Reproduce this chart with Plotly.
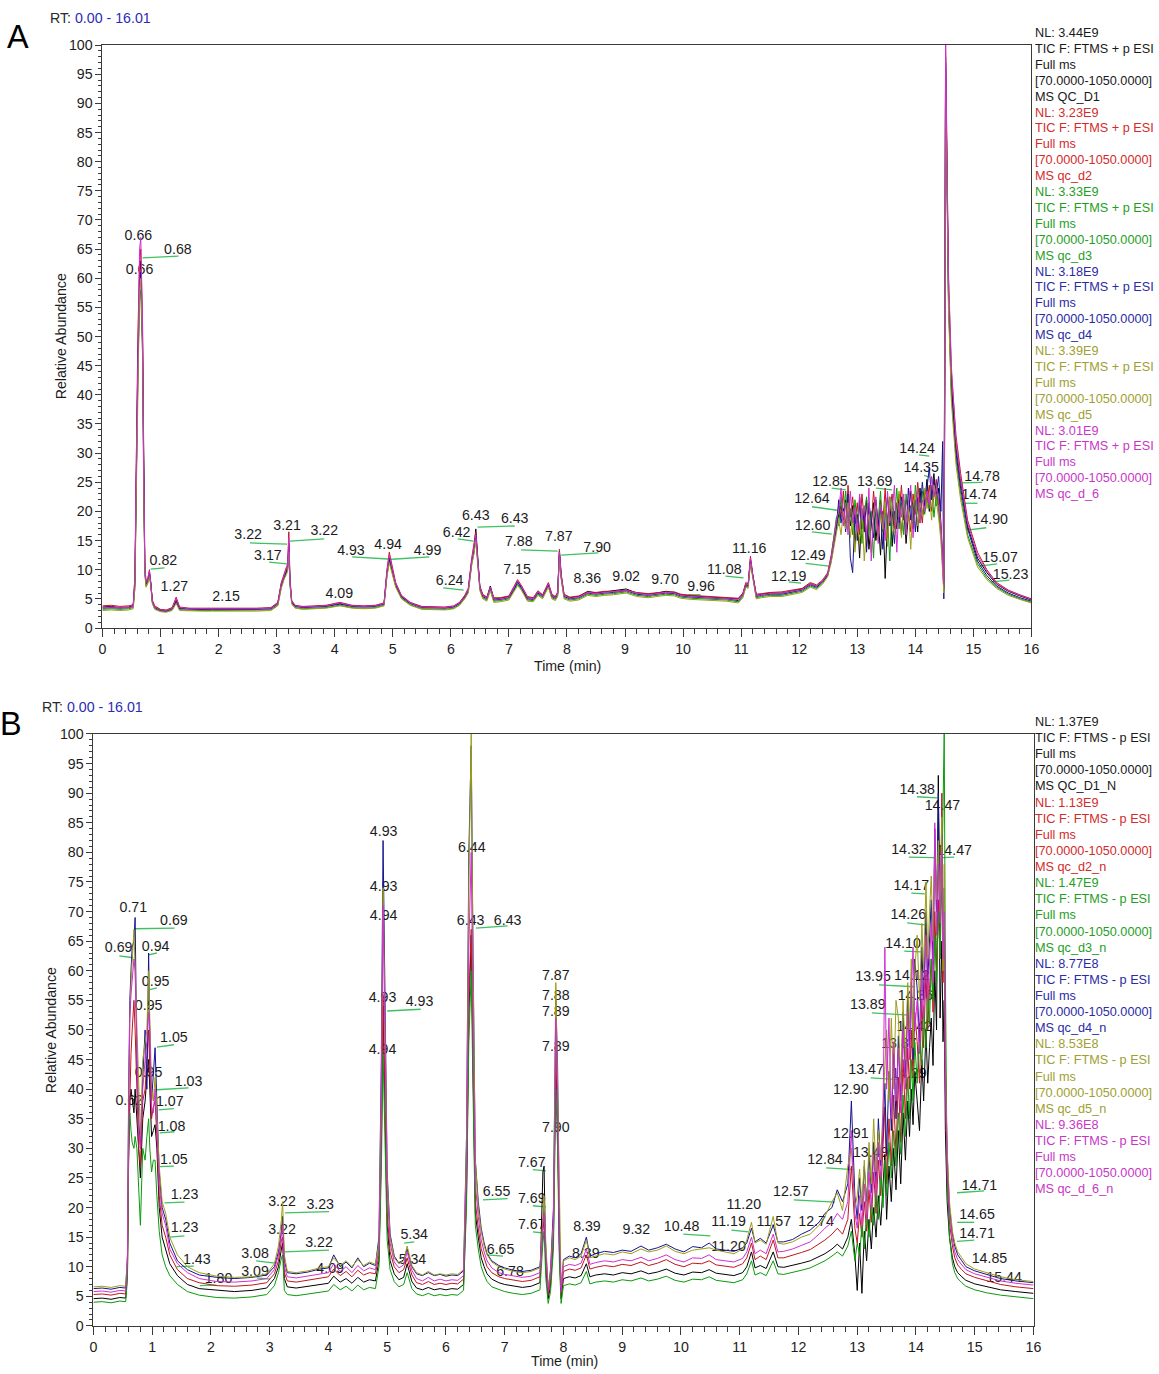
import plotly.graph_objects as go

# ---------------- Panel A : TIC, FTMS + p ESI (positive mode) ----------------
time_a = [
    0.0, 0.15, 0.3, 0.45, 0.53, 0.56, 0.58, 0.61, 0.64, 0.66,
    0.69, 0.71, 0.73, 0.75, 0.78, 0.81, 0.83, 0.86, 0.9, 1.0,
    1.1, 1.2, 1.27, 1.33, 1.5, 1.7, 1.9, 2.15, 2.4, 2.65,
    2.9, 3.02, 3.08, 3.13, 3.17, 3.19, 3.21, 3.23, 3.26, 3.32,
    3.45, 3.65, 3.85, 4.09, 4.3, 4.5, 4.7, 4.85, 4.9, 4.94,
    4.99, 5.05, 5.15, 5.3, 5.5, 5.7, 5.9, 6.05, 6.15, 6.24,
    6.3, 6.36, 6.4, 6.43, 6.46, 6.5, 6.55, 6.62, 6.68, 6.74,
    6.85, 7.0, 7.08, 7.15, 7.22, 7.32, 7.42, 7.5, 7.58, 7.68,
    7.74, 7.8, 7.84, 7.87, 7.9, 7.95, 8.05, 8.2, 8.36, 8.5,
    8.65, 8.8, 9.02, 9.2, 9.4, 9.55, 9.7, 9.85, 9.96, 10.15,
    10.35, 10.55, 10.75, 10.95, 11.03, 11.08, 11.12, 11.16, 11.2, 11.26,
    11.35, 11.5, 11.7, 11.9, 12.05, 12.19, 12.3, 12.4, 12.49, 12.55,
    12.6, 12.64, 12.68, 12.72, 12.76, 12.8, 12.84, 12.88, 12.92, 12.96,
    13.0, 13.04, 13.08, 13.12, 13.16, 13.2, 13.24, 13.28, 13.32, 13.36,
    13.4, 13.44, 13.48, 13.52, 13.56, 13.6, 13.64, 13.68, 13.72, 13.76,
    13.8, 13.84, 13.88, 13.92, 13.96, 14.0, 14.04, 14.08, 14.12, 14.16,
    14.2, 14.24, 14.28, 14.32, 14.36, 14.4, 14.44, 14.47, 14.49, 14.51,
    14.52, 14.54, 14.57, 14.62, 14.7, 14.78, 14.9, 15.07, 15.23, 15.4,
    15.6, 15.8, 16.0,
]

a_qc_d1 = [
    3.6, 3.7, 3.5, 3.6, 3.8, 8, 24, 47, 61, 63,
    50, 26, 10, 7.5, 8.2, 9.5, 8.0, 4.6, 3.6, 3.1,
    3.0, 3.4, 4.8, 3.4, 3.3, 3.2, 3.3, 3.3, 3.2, 3.3,
    3.4, 4.2, 7.5, 9.0, 10.0, 10.5, 14.5, 8.0, 4.5, 3.8,
    3.6, 3.7, 3.8, 4.2, 3.8, 3.7, 3.8, 4.2, 9.5, 12.0,
    10.0, 7.5, 5.4, 4.3, 3.6, 3.5, 3.5, 3.7, 4.3, 5.5,
    6.5, 11.5, 13.5, 17.0, 12.5, 7.0, 5.6, 5.2, 7.2, 5.0,
    5.1, 5.4, 6.8, 8.0, 7.0, 5.2, 5.1, 6.2, 5.6, 7.6,
    5.6, 5.3, 6.0, 13.2, 9.0, 5.6, 5.2, 5.4, 6.3, 6.0,
    6.2, 6.4, 6.7, 6.0, 5.8, 6.0, 6.3, 6.1, 5.7, 5.5,
    5.4, 5.3, 5.2, 5.0, 5.8, 7.6, 7.3, 11.8, 9.0, 5.6,
    5.8, 6.0, 6.0, 6.4, 6.7, 7.6, 7.2, 8.0, 9.2, 11.8,
    15.0, 17.5, 19.5, 21.0, 18.5, 22.0, 20.0, 17.5, 21.0, 14.0,
    19.5, 12.0, 20.5, 16.5, 22.0, 13.5, 18.0, 21.5, 15.0, 19.0,
    12.5, 20.0, 8.5, 18.5, 22.5, 14.0, 20.0, 17.0, 23.0, 16.0,
    21.0, 14.5, 19.5, 23.5, 17.0, 22.0, 16.5, 24.0, 19.0, 21.5,
    25.5, 20.0, 23.5, 26.5, 21.0, 24.0, 18.0, 10.0, 8.0, 60.0,
    97.0, 82.0, 58.0, 42.0, 31.0, 25.0, 17.5, 12.0, 9.5, 7.5,
    6.3, 5.5, 4.8,
]

a_qc_d2 = [
    3.8, 3.9, 3.7, 3.8, 4.0, 9, 26, 50, 63, 65,
    52, 28, 11, 8.0, 8.5, 10.0, 8.3, 4.8, 3.8, 3.2,
    3.1, 3.5, 5.3, 3.6, 3.4, 3.4, 3.4, 3.4, 3.3, 3.4,
    3.5, 4.4, 7.8, 9.5, 10.5, 11.0, 16.5, 8.5, 4.7, 3.9,
    3.7, 3.8, 3.9, 4.4, 3.9, 3.8, 3.9, 4.3, 10.0, 13.0,
    10.5, 7.8, 5.6, 4.4, 3.7, 3.6, 3.6, 3.8, 4.4, 5.6,
    6.8, 12.0, 14.5, 16.5, 12.0, 7.2, 5.8, 5.3, 7.0, 5.2,
    5.2, 5.5, 7.0, 8.3, 7.2, 5.4, 5.2, 6.4, 5.7, 7.8,
    5.8, 5.4, 6.2, 13.5, 9.3, 5.8, 5.3, 5.5, 6.2, 6.1,
    6.3, 6.3, 6.5, 6.1, 5.9, 6.1, 6.2, 6.2, 5.8, 5.6,
    5.5, 5.3, 5.3, 5.1, 6.0, 7.8, 7.6, 12.3, 9.2, 5.8,
    5.9, 6.1, 6.2, 6.5, 6.8, 7.8, 7.4, 8.2, 9.5, 12.5,
    16.0, 18.0, 21.0, 19.0, 23.5, 17.0, 24.5, 19.0, 22.5, 18.0,
    21.5, 16.0, 23.0, 18.5, 14.0, 21.0, 17.5, 23.5, 19.0, 16.0,
    22.0, 18.0, 24.0, 15.5, 20.5, 23.0, 17.0, 21.5, 19.5, 24.5,
    18.5, 22.0, 20.0, 16.5, 23.0, 19.5, 25.0, 21.0, 18.0, 23.5,
    21.5, 24.5, 20.0, 22.5, 25.5, 21.0, 17.0, 11.0, 7.0, 55.0,
    100.0, 84.0, 60.0, 44.0, 33.0, 26.5, 18.5, 13.0, 10.0, 7.8,
    6.5, 5.7, 5.0,
]

a_qc_d3 = [
    3.2, 3.3, 3.2, 3.3, 3.5, 7, 22, 44, 56, 58,
    47, 24, 9.5, 7.2, 7.8, 9.0, 7.6, 4.3, 3.3, 2.9,
    2.8, 3.1, 4.4, 3.1, 3.0, 3.0, 3.0, 3.0, 3.0, 3.0,
    3.1, 3.9, 7.0, 8.6, 9.4, 10.0, 13.5, 7.6, 4.2, 3.5,
    3.3, 3.4, 3.5, 3.9, 3.5, 3.4, 3.5, 3.9, 9.0, 11.5,
    9.6, 7.2, 5.1, 4.0, 3.3, 3.2, 3.2, 3.4, 4.0, 5.1,
    6.2, 11.0, 13.0, 15.5, 11.5, 6.6, 5.2, 4.8, 6.6, 4.6,
    4.7, 5.0, 6.3, 7.5, 6.6, 4.8, 4.7, 5.8, 5.2, 7.2,
    5.2, 4.9, 5.6, 12.4, 8.6, 5.2, 4.8, 5.0, 5.8, 5.6,
    5.8, 5.9, 6.2, 5.6, 5.4, 5.6, 5.8, 5.7, 5.3, 5.1,
    5.0, 4.9, 4.8, 4.5, 5.4, 7.2, 7.0, 11.2, 8.5, 5.2,
    5.4, 5.6, 5.6, 6.0, 6.3, 7.2, 6.8, 7.7, 9.0, 12.0,
    15.5, 19.0, 17.5, 22.5, 19.0, 23.5, 18.0, 20.5, 16.0, 22.0,
    17.5, 21.0, 14.5, 19.5, 22.5, 16.0, 20.0, 12.0, 21.5, 18.5,
    23.5, 16.5, 21.0, 19.0, 11.5, 22.0, 18.5, 24.0, 17.0, 21.5,
    16.0, 23.0, 19.5, 21.0, 17.5, 24.5, 20.0, 18.0, 23.5, 19.5,
    22.0, 20.5, 24.5, 19.0, 23.0, 20.0, 16.0, 10.0, 6.5, 48.0,
    96.0, 80.0, 56.0, 40.0, 29.0, 23.0, 16.0, 11.0, 8.6, 7.0,
    5.8, 5.0, 4.4,
]

a_qc_d4 = [
    3.4, 3.5, 3.4, 3.5, 3.7, 8, 23, 46, 59, 61,
    49, 25, 10, 7.6, 8.0, 9.3, 7.9, 4.5, 3.5, 3.0,
    2.9, 3.3, 4.6, 3.3, 3.2, 3.2, 3.2, 3.2, 3.1, 3.2,
    3.3, 4.1, 7.3, 8.8, 9.7, 10.3, 14.0, 7.8, 4.4, 3.7,
    3.5, 3.6, 3.7, 4.1, 3.7, 3.6, 3.7, 4.1, 9.3, 11.8,
    9.8, 7.4, 5.3, 4.2, 3.5, 3.4, 3.4, 3.6, 4.2, 5.3,
    6.4, 11.2, 13.3, 16.0, 12.0, 6.8, 5.4, 5.0, 6.9, 4.8,
    4.9, 5.2, 6.5, 7.8, 6.8, 5.0, 4.9, 6.0, 5.4, 7.4,
    5.4, 5.1, 5.8, 12.8, 8.8, 5.4, 5.0, 5.2, 6.0, 5.8,
    6.0, 6.1, 6.4, 5.8, 5.6, 5.8, 6.0, 5.9, 5.5, 5.3,
    5.2, 5.1, 5.0, 4.7, 5.6, 7.4, 7.2, 11.5, 8.8, 5.4,
    5.6, 5.8, 5.8, 6.2, 6.5, 7.4, 7.0, 7.9, 9.1, 11.5,
    14.5, 17.0, 22.0, 18.0, 20.5, 16.5, 23.0, 12.0, 9.5, 19.5,
    15.0, 22.5, 17.0, 20.0, 13.0, 21.5, 18.5, 15.5, 22.0, 17.5,
    20.5, 13.5, 19.0, 22.5, 17.5, 20.0, 14.5, 21.0, 18.0, 22.5,
    19.0, 17.0, 24.0, 18.5, 21.5, 16.5, 22.5, 20.0, 25.0, 21.0,
    24.0, 27.5, 22.0, 25.5, 23.0, 26.0, 20.0, 32.0, 5.0, 45.0,
    98.0, 81.0, 57.0, 41.0, 30.0, 24.0, 17.0, 11.5, 9.0, 7.2,
    6.0, 5.2, 4.6,
]

a_qc_d5 = [
    3.0, 3.1, 3.0, 3.1, 3.3, 7, 21, 44, 58, 60,
    48, 24, 9.5, 7.0, 7.6, 8.8, 7.4, 4.2, 3.2, 2.8,
    2.7, 3.0, 4.2, 3.0, 2.9, 2.9, 2.9, 2.9, 2.8, 2.9,
    3.0, 3.8, 6.8, 8.4, 9.2, 9.8, 13.0, 7.4, 4.1, 3.4,
    3.2, 3.3, 3.4, 3.8, 3.4, 3.3, 3.4, 3.8, 8.8, 11.2,
    9.4, 7.0, 5.0, 3.9, 3.2, 3.1, 3.1, 3.3, 3.9, 5.0,
    6.0, 10.8, 12.8, 15.0, 11.2, 6.4, 5.0, 4.6, 6.4, 4.4,
    4.5, 4.8, 6.1, 7.3, 6.4, 4.6, 4.5, 5.6, 5.0, 7.0,
    5.0, 4.7, 5.4, 12.0, 8.4, 5.0, 4.6, 4.8, 5.6, 5.4,
    5.6, 5.7, 6.0, 5.4, 5.2, 5.4, 5.6, 5.5, 5.1, 4.9,
    4.8, 4.7, 4.6, 4.3, 5.2, 7.0, 6.8, 11.0, 8.3, 5.0,
    5.2, 5.4, 5.4, 5.8, 6.1, 7.0, 6.6, 7.5, 8.8, 11.2,
    14.0, 16.5, 18.5, 16.0, 20.0, 17.0, 21.5, 15.5, 19.0, 13.0,
    18.0, 14.5, 20.5, 11.5, 17.0, 19.5, 13.0, 18.5, 21.0, 15.0,
    19.5, 17.0, 21.5, 14.0, 22.5, 18.5, 16.0, 20.5, 23.5, 15.5,
    22.0, 18.0, 20.5, 13.5, 21.0, 23.0, 17.5, 21.5, 19.0, 24.0,
    20.5, 23.0, 18.5, 24.5, 21.5, 19.0, 15.0, 9.5, 6.0, 42.0,
    95.0, 79.0, 55.0, 39.0, 28.0, 22.0, 15.5, 10.5, 8.3, 6.8,
    5.6, 4.9, 4.3,
]

a_qc_d6 = [
    3.5, 3.6, 3.5, 3.5, 3.7, 9, 27, 51, 65, 67,
    53, 28, 11, 7.8, 8.3, 9.8, 8.1, 4.6, 3.6, 3.1,
    3.0, 3.4, 5.0, 3.5, 3.3, 3.3, 3.3, 3.3, 3.2, 3.3,
    3.4, 4.2, 7.6, 9.2, 10.2, 10.6, 15.5, 8.2, 4.6, 3.8,
    3.6, 3.7, 3.8, 4.3, 3.8, 3.7, 3.8, 4.2, 9.8, 12.5,
    10.2, 7.6, 5.5, 4.3, 3.6, 3.5, 3.5, 3.7, 4.3, 5.4,
    6.6, 11.6, 14.0, 16.0, 12.2, 7.0, 5.6, 5.1, 7.0, 5.0,
    5.0, 5.3, 6.8, 8.1, 7.1, 5.2, 5.0, 6.2, 5.5, 7.6,
    5.6, 5.2, 6.0, 13.0, 9.1, 5.6, 5.1, 5.3, 6.1, 5.9,
    6.1, 6.2, 6.4, 6.0, 5.7, 5.9, 6.1, 6.0, 5.6, 5.4,
    5.3, 5.2, 5.1, 4.9, 5.8, 7.6, 7.4, 12.0, 9.0, 5.6,
    5.7, 5.9, 6.0, 6.3, 6.6, 7.6, 7.2, 8.0, 9.3, 12.0,
    15.0, 18.5, 20.0, 24.0, 17.5, 21.5, 16.0, 23.5, 18.0, 20.5,
    16.5, 23.0, 18.5, 21.0, 15.5, 24.0, 11.5, 19.0, 22.5, 14.5,
    21.0, 19.0, 15.0, 23.5, 18.0, 20.0, 24.5, 13.0, 21.5, 19.0,
    23.0, 16.0, 21.5, 24.5, 15.5, 20.5, 23.5, 18.0, 22.0, 20.0,
    23.5, 21.0, 26.0, 22.5, 24.0, 22.0, 17.5, 11.5, 7.5, 62.0,
    100.0, 85.0, 61.0, 45.0, 32.0, 25.5, 18.0, 12.5, 9.8, 7.6,
    6.4, 5.6, 4.9,
]

# ---------------- Panel B : TIC, FTMS - p ESI (negative mode) ----------------
time_b = [
    0.0, 0.15, 0.3, 0.45, 0.55, 0.58, 0.6, 0.62, 0.64, 0.66,
    0.69, 0.71, 0.74, 0.77, 0.8, 0.84, 0.88, 0.91, 0.94, 0.96,
    0.99, 1.02, 1.05, 1.08, 1.12, 1.17, 1.23, 1.3, 1.43, 1.6,
    1.8, 2.1, 2.4, 2.7, 2.95, 3.08, 3.15, 3.2, 3.22, 3.25,
    3.3, 3.45, 3.65, 3.85, 4.0, 4.09, 4.2, 4.3, 4.4, 4.5,
    4.6, 4.7, 4.8, 4.86, 4.9, 4.93, 4.96, 5.0, 5.05, 5.12,
    5.2, 5.28, 5.34, 5.42, 5.5, 5.6, 5.7, 5.8, 5.9, 6.0,
    6.1, 6.2, 6.3, 6.35, 6.39, 6.43, 6.46, 6.5, 6.55, 6.6,
    6.65, 6.7, 6.78, 6.9, 7.0, 7.15, 7.3, 7.45, 7.6, 7.65,
    7.67, 7.7, 7.74, 7.78, 7.83, 7.87, 7.9, 7.93, 7.96, 8.0,
    8.1, 8.2, 8.3, 8.39, 8.45, 8.55, 8.7, 8.85, 9.0, 9.15,
    9.32, 9.45, 9.6, 9.75, 9.9, 10.05, 10.2, 10.35, 10.48, 10.6,
    10.75, 10.9, 11.05, 11.12, 11.2, 11.26, 11.35, 11.45, 11.57, 11.65,
    11.75, 11.9, 12.05, 12.2, 12.35, 12.45, 12.57, 12.66, 12.75, 12.84,
    12.9, 12.96, 13.0, 13.04, 13.08, 13.12, 13.16, 13.2, 13.24, 13.28,
    13.32, 13.36, 13.4, 13.44, 13.47, 13.5, 13.54, 13.58, 13.62, 13.66,
    13.7, 13.74, 13.78, 13.82, 13.86, 13.89, 13.92, 13.95, 13.98, 14.02,
    14.06, 14.1, 14.13, 14.17, 14.2, 14.23, 14.26, 14.29, 14.32, 14.35,
    14.38, 14.41, 14.44, 14.46, 14.48, 14.5, 14.53, 14.57, 14.62, 14.66,
    14.71, 14.78, 14.85, 15.0, 15.2, 15.44, 15.7, 16.0,
]

b_qc_d1 = [
    4.6, 4.7, 4.5, 4.8, 4.7, 9, 28, 38, 40, 38,
    36, 40, 35, 28, 25, 35, 38, 42, 45, 40,
    32, 33, 34, 30, 20, 15, 13, 10.5, 8.5, 7.0,
    6.3, 6.0, 5.8, 6.0, 6.4, 8.0, 10.0, 13.0, 14.0, 8.0,
    6.6, 6.4, 6.7, 7.0, 7.2, 8.4, 7.4, 8.0, 7.2, 8.2,
    7.4, 7.8, 7.6, 11.0, 30.0, 54.0, 36.0, 17.0, 11.0, 8.8,
    7.8, 8.2, 10.5, 7.5, 6.4, 6.1, 6.5, 6.1, 6.3, 6.1,
    6.3, 6.2, 7.0, 22.0, 52.0, 66.0, 44.0, 19.0, 15.0, 11.5,
    10.0, 8.8, 7.9, 7.3, 7.0, 6.7, 6.5, 6.7, 7.3, 26.0,
    27.0, 10.0, 4.6, 6.8, 15.0, 46.0, 34.0, 13.0, 4.6, 8.0,
    8.3, 8.1, 8.5, 10.5, 8.3, 8.6, 8.8, 8.6, 9.0, 8.8,
    9.3, 8.8, 9.1, 9.6, 8.9, 8.6, 9.1, 9.0, 9.5, 8.9,
    8.7, 8.5, 9.0, 10.0, 12.5, 9.8, 10.2, 9.7, 12.5, 10.0,
    9.9, 10.2, 10.6, 11.0, 11.8, 12.2, 13.0, 13.8, 13.0, 15.0,
    18.0, 12.0, 6.0, 14.0, 5.5, 16.0, 11.0, 18.0, 13.0, 20.0,
    15.0, 22.0, 17.0, 25.0, 29.0, 18.0, 27.0, 21.0, 30.0, 23.0,
    33.0, 24.0, 36.0, 28.0, 38.0, 32.0, 40.0, 34.0, 43.0, 38.0,
    33.0, 45.0, 38.0, 50.0, 41.0, 47.0, 52.0, 44.0, 60.0, 50.0,
    93.0, 52.0, 65.0, 48.0, 55.0, 33.0, 21.0, 15.0, 11.5, 10.0,
    9.0, 8.3, 7.7, 7.1, 6.6, 6.1, 5.8, 5.5,
]

b_qc_d2 = [
    5.3, 5.4, 5.2, 5.5, 5.4, 10, 30, 40, 46, 50,
    55, 50, 40, 30, 27, 38, 40, 45, 50, 43,
    35, 37, 38, 32, 22, 17, 15, 12, 9.5, 8.0,
    7.3, 6.8, 6.7, 6.9, 7.3, 8.8, 11.0, 14.5, 15.0, 9.0,
    7.6, 7.4, 7.7, 8.1, 8.3, 9.6, 8.5, 9.2, 8.3, 9.4,
    8.6, 9.0, 8.8, 12.0, 32.0, 56.0, 38.0, 19.0, 12.5, 10.0,
    9.0, 9.5, 11.5, 8.6, 7.3, 7.0, 7.5, 7.0, 7.2, 7.0,
    7.2, 7.1, 7.9, 24.0, 55.0, 67.0, 45.0, 21.0, 16.5, 13.0,
    11.5, 10.0, 9.0, 8.3, 8.0, 7.7, 7.5, 7.7, 8.3, 16.0,
    18.0, 11.0, 5.2, 7.8, 16.0, 48.0, 36.0, 14.0, 5.2, 9.2,
    9.6, 9.4, 9.8, 12.0, 9.6, 9.9, 10.2, 10.0, 10.4, 10.2,
    10.8, 10.2, 10.6, 11.2, 10.4, 10.0, 10.6, 10.5, 11.0, 10.3,
    10.1, 9.9, 10.5, 11.5, 14.0, 11.2, 11.8, 11.2, 14.5, 11.5,
    11.5, 11.9, 12.4, 12.9, 13.8, 14.5, 15.5, 16.5, 15.5, 18.0,
    27.0, 16.5, 14.0, 19.0, 15.0, 21.0, 16.0, 23.0, 17.5, 26.0,
    19.0, 28.0, 22.0, 31.0, 37.0, 24.0, 35.0, 27.0, 39.0, 29.0,
    42.0, 31.0, 45.0, 35.0, 47.0, 40.0, 50.0, 42.0, 53.0, 48.0,
    41.0, 55.0, 47.0, 60.0, 50.0, 57.0, 62.0, 53.0, 70.0, 60.0,
    72.0, 62.0, 90.0, 58.0, 66.0, 40.0, 25.0, 17.5, 13.5, 11.5,
    10.3, 9.5, 8.8, 8.2, 7.6, 7.0, 6.6, 6.3,
]

b_qc_d3 = [
    4.0, 4.1, 3.9, 4.2, 4.1, 8, 30, 36, 33, 31,
    30, 32, 30, 22, 17, 30, 28, 32, 35, 30,
    26, 28, 28, 22, 16, 12, 10, 8.5, 7.0, 5.8,
    5.2, 4.8, 4.7, 4.9, 5.3, 6.8, 9.0, 11.5, 12.0, 6.0,
    5.3, 5.1, 5.4, 5.7, 5.9, 7.0, 6.1, 6.7, 5.9, 6.9,
    6.1, 6.5, 6.3, 10.0, 26.0, 46.0, 31.0, 14.5, 9.5, 7.5,
    6.6, 7.0, 9.0, 6.3, 5.4, 5.1, 5.5, 5.1, 5.3, 5.1,
    5.3, 5.2, 6.0, 20.0, 48.0, 60.0, 40.0, 17.0, 13.0, 10.0,
    8.6, 7.5, 6.6, 6.1, 5.8, 5.5, 5.3, 5.5, 6.1, 14.0,
    16.0, 8.0, 3.8, 5.8, 13.0, 40.0, 30.0, 11.0, 3.8, 6.8,
    7.1, 6.9, 7.3, 9.2, 7.1, 7.4, 7.6, 7.4, 7.8, 7.6,
    8.1, 7.6, 7.9, 8.4, 7.7, 7.4, 7.9, 7.8, 8.3, 7.7,
    7.5, 7.3, 7.8, 8.8, 11.0, 8.6, 9.0, 8.5, 11.0, 8.8,
    8.7, 9.0, 9.4, 9.8, 10.6, 11.0, 11.8, 12.5, 11.8, 13.5,
    16.0, 11.0, 14.0, 12.0, 17.0, 13.0, 19.0, 15.0, 21.0, 17.0,
    23.0, 18.0, 26.0, 20.0, 28.0, 22.0, 31.0, 25.0, 33.0, 27.0,
    36.0, 29.0, 39.0, 32.0, 42.0, 35.0, 45.0, 38.0, 48.0, 41.0,
    50.0, 44.0, 54.0, 47.0, 58.0, 51.0, 62.0, 55.0, 66.0, 58.0,
    70.0, 62.0, 75.0, 88.0, 100.0, 60.0, 25.0, 15.0, 10.5, 9.0,
    8.0, 7.3, 6.7, 6.1, 5.6, 5.2, 4.9, 4.6,
]

b_qc_d4 = [
    6.3, 6.4, 6.2, 6.5, 6.4, 12, 40, 55, 60, 64,
    65, 69, 45, 35, 30, 42, 50, 40, 63, 48,
    38, 42, 47, 38, 26, 20, 18, 14, 11, 9.5,
    8.6, 8.2, 8.0, 8.2, 8.6, 10.0, 12.5, 16.0, 18.5, 11.0,
    9.0, 8.8, 9.1, 9.6, 9.8, 12.0, 10.0, 10.8, 9.8, 11.5,
    10.0, 10.6, 10.2, 15.0, 45.0, 82.0, 55.0, 26.0, 15.5, 11.8,
    10.6, 11.2, 13.0, 10.0, 8.8, 8.5, 9.0, 8.5, 8.7, 8.4,
    8.6, 8.5, 9.3, 32.0, 80.0, 98.0, 64.0, 28.0, 21.0, 16.5,
    14.0, 12.2, 11.0, 10.2, 9.8, 9.4, 9.2, 9.4, 10.0, 18.0,
    20.0, 13.0, 6.0, 9.5, 20.0, 55.0, 44.0, 17.0, 6.0, 11.2,
    11.8, 11.5, 12.2, 15.0, 11.8, 12.2, 12.6, 12.4, 12.8, 12.6,
    13.5, 12.8, 13.2, 13.8, 13.0, 12.5, 13.4, 13.2, 14.0, 13.0,
    12.8, 12.6, 13.2, 14.0, 16.5, 14.2, 14.8, 14.0, 17.0, 14.2,
    14.2, 14.6, 15.5, 16.2, 17.5, 19.0, 20.0, 23.0, 21.0, 24.0,
    38.0, 22.0, 18.0, 25.0, 19.5, 27.0, 21.0, 29.0, 22.5, 31.0,
    24.0, 35.0, 27.0, 33.0, 41.0, 29.0, 43.0, 33.0, 46.0, 35.0,
    49.0, 38.0, 53.0, 42.0, 56.0, 47.0, 58.0, 45.0, 62.0, 57.0,
    48.0, 64.0, 55.0, 70.0, 58.0, 66.0, 72.0, 61.0, 84.0, 70.0,
    90.0, 72.0, 83.0, 65.0, 74.0, 44.0, 29.0, 20.0, 15.5, 13.5,
    12.0, 11.0, 10.0, 9.3, 8.7, 8.0, 7.6, 7.3,
]

b_qc_d5 = [
    6.6, 6.7, 6.5, 6.8, 6.7, 12, 35, 52, 58, 62,
    67, 60, 50, 38, 32, 45, 48, 50, 60, 52,
    40, 38, 42, 36, 27, 21, 19, 15, 12, 10,
    9.0, 8.4, 8.2, 8.3, 8.8, 10.5, 13.5, 18.0, 21.0, 12.0,
    9.2, 9.0, 9.3, 9.8, 10.0, 11.5, 10.2, 11.0, 10.0, 11.2,
    10.2, 10.8, 10.4, 14.0, 40.0, 74.0, 50.0, 25.0, 15.0, 11.5,
    10.5, 11.0, 13.5, 10.2, 9.0, 8.6, 9.2, 8.6, 8.8, 8.6,
    8.8, 8.7, 9.5, 30.0, 75.0, 100.0, 62.0, 28.0, 20.0, 16.0,
    13.5, 12.0, 10.8, 10.0, 9.6, 9.2, 9.0, 9.2, 9.8, 20.0,
    22.0, 14.0, 6.5, 9.0, 18.0, 58.0, 40.0, 18.0, 6.5, 11.0,
    11.5, 11.2, 11.8, 14.5, 11.5, 11.8, 12.2, 12.0, 12.5, 12.2,
    13.0, 12.5, 12.8, 13.5, 12.6, 12.2, 12.8, 13.0, 13.2, 12.8,
    12.5, 12.2, 13.0, 14.5, 17.5, 14.0, 14.5, 13.8, 18.5, 14.0,
    13.8, 14.2, 15.0, 15.5, 17.0, 18.5, 21.0, 22.5, 19.5, 27.0,
    30.0, 20.0, 22.0, 26.5, 20.5, 28.0, 19.0, 31.0, 24.0, 35.0,
    26.0, 33.0, 28.0, 39.0, 44.0, 50.0, 38.0, 52.0, 40.0, 55.0,
    52.0, 41.0, 55.0, 45.0, 58.0, 50.0, 62.0, 47.0, 60.0, 66.0,
    55.0, 68.0, 60.0, 75.0, 62.0, 70.0, 76.0, 65.0, 80.0, 72.0,
    82.0, 70.0, 86.0, 60.0, 78.0, 45.0, 30.0, 21.0, 16.0, 14.0,
    12.5, 11.5, 10.5, 9.6, 9.0, 8.3, 7.8, 7.5,
]

b_qc_d6 = [
    5.8, 5.9, 5.7, 6.0, 5.9, 11, 38, 52, 56, 58,
    62, 60, 48, 33, 30, 40, 45, 48, 53, 50,
    37, 36, 40, 34, 24, 19, 17, 13, 10.5, 9.0,
    8.0, 7.5, 7.4, 7.6, 8.0, 9.5, 12.0, 15.5, 17.0, 10.0,
    8.3, 8.1, 8.4, 8.8, 9.0, 10.5, 9.2, 10.0, 9.0, 10.2,
    9.3, 9.8, 9.5, 13.0, 38.0, 71.0, 48.0, 23.0, 14.0, 10.8,
    9.8, 10.3, 12.5, 9.4, 8.0, 7.6, 8.2, 7.6, 7.9, 7.6,
    7.8, 7.7, 8.5, 27.0, 64.0, 80.0, 52.0, 24.0, 18.5, 14.5,
    12.5, 11.0, 9.8, 9.0, 8.7, 8.4, 8.2, 8.4, 9.0, 17.0,
    19.0, 12.0, 5.8, 8.5, 17.0, 52.0, 38.0, 15.0, 5.8, 10.0,
    10.4, 10.2, 10.6, 13.0, 10.4, 10.7, 11.0, 10.8, 11.2, 11.0,
    11.6, 11.0, 11.4, 12.0, 11.2, 10.8, 11.5, 11.4, 12.0, 11.2,
    11.0, 10.8, 11.4, 12.5, 15.0, 12.2, 12.8, 12.2, 15.5, 12.5,
    12.6, 13.0, 13.6, 14.2, 15.5, 16.5, 17.5, 19.0, 18.0, 21.0,
    33.0, 19.0, 16.5, 22.0, 17.0, 24.0, 18.0, 26.0, 20.0, 29.0,
    22.0, 31.0, 25.0, 36.0, 64.0, 40.0, 52.0, 35.0, 48.0, 38.0,
    47.0, 36.0, 50.0, 40.0, 53.0, 45.0, 56.0, 64.0, 50.0, 55.0,
    46.0, 60.0, 52.0, 66.0, 55.0, 63.0, 68.0, 58.0, 85.0, 66.0,
    78.0, 68.0, 80.0, 62.0, 70.0, 42.0, 27.0, 19.0, 14.5, 12.5,
    11.2, 10.3, 9.5, 8.8, 8.2, 7.6, 7.2, 6.9,
]

# ---------------- header / legend text ----------------
files_a = ["MS QC_D1", "MS qc_d2", "MS qc_d3", "MS qc_d4", "MS qc_d5", "MS qc_d_6"]
files_b = ["MS QC_D1_N", "MS qc_d2_n", "MS qc_d3_n", "MS qc_d4_n", "MS qc_d5_n", "MS qc_d_6_n"]
nl_a = ["3.44E9", "3.23E9", "3.33E9", "3.18E9", "3.39E9", "3.01E9"]
nl_b = ["1.37E9", "1.13E9", "1.47E9", "8.77E8", "8.53E8", "9.36E8"]
scan_a = "TIC F: FTMS + p ESI"
scan_b = "TIC F: FTMS - p ESI"
rt_range = "0.00 - 16.01"

# ---------------- peak labels (retention times) ----------------
lab_a_text = ["0.66", "0.68", "0.66", "0.82", "1.27", "2.15", "3.22", "3.21", "3.22", "3.17",
              "4.09", "4.93", "4.94", "4.99", "6.24", "6.42", "6.43", "6.43", "7.88", "7.87",
              "7.90", "7.15", "8.36", "9.02", "9.70", "9.96", "11.08", "11.16", "12.19", "12.49",
              "12.60", "12.64", "12.85", "13.69", "14.24", "14.35", "14.52", "14.78", "14.74", "14.90",
              "15.07", "15.23"]
lab_a_t = [0.62, 1.30, 0.64, 1.05, 1.24, 2.13, 2.51, 3.18, 3.82, 2.85,
           4.08, 4.28, 4.92, 5.60, 5.98, 6.10, 6.43, 7.10, 7.17, 7.86,
           8.52, 7.14, 8.35, 9.02, 9.69, 10.31, 10.71, 11.14, 11.82, 12.15,
           12.23, 12.22, 12.53, 13.30, 14.03, 14.10, 14.51, 15.15, 15.10, 15.29,
           15.46, 15.64]
lab_a_v = [67.2, 64.8, 61.4, 11.5, 7.0, 5.3, 15.8, 17.5, 16.5, 12.2,
           5.8, 13.2, 14.1, 13.2, 7.9, 16.3, 19.2, 18.7, 14.6, 15.6,
           13.7, 9.9, 8.4, 8.6, 8.2, 6.9, 9.8, 13.4, 8.7, 12.2,
           17.5, 22.0, 24.9, 24.9, 30.7, 27.3, 101.9, 25.9, 22.8, 18.4,
           12.0, 9.1]

# leader lines: (t0, v0, t1, v1)
lead_a = [
    (0.69, 63.5, 1.31, 63.8), (0.83, 10.1, 1.07, 10.3), (2.54, 14.6, 3.18, 14.4),
    (3.23, 14.9, 3.82, 15.3), (2.87, 11.3, 3.18, 11.0), (4.30, 12.2, 4.99, 11.8),
    (4.99, 11.8, 5.63, 12.2), (5.87, 6.9, 6.22, 6.5), (6.12, 15.3, 6.39, 14.9),
    (6.46, 17.3, 7.10, 17.5), (7.21, 13.4, 7.84, 13.2), (7.90, 12.5, 8.54, 12.9),
    (10.09, 5.7, 10.30, 5.7), (10.73, 8.9, 11.04, 8.6), (11.82, 7.9, 12.03, 7.7),
    (12.11, 11.1, 12.51, 10.6), (12.22, 16.5, 12.56, 16.1), (12.22, 20.8, 12.65, 20.2),
    (12.56, 24.0, 12.80, 23.7), (13.32, 24.0, 13.60, 23.7), (14.06, 29.7, 14.24, 29.5),
    (14.15, 26.2, 14.24, 25.9), (14.79, 24.9, 15.15, 25.0), (14.81, 21.4, 15.07, 21.4),
    (14.89, 16.8, 15.22, 17.2), (15.10, 10.6, 15.41, 11.0), (15.31, 7.9, 15.62, 8.2),
]

lab_b_text = ["6.43", "14.48", "0.71", "0.69", "0.69", "0.94", "0.95", "0.95", "1.05", "1.03",
              "0.95", "0.62", "1.07", "1.08", "1.05", "1.23", "1.23", "1.43", "1.80", "3.22",
              "3.23", "3.22", "3.22", "3.08", "3.09", "4.09", "4.93", "4.93", "4.94", "4.93",
              "4.93", "4.94", "5.34", "5.34", "6.44", "6.43", "6.43", "6.55", "6.65", "6.78",
              "7.67", "7.69", "7.67", "7.87", "7.88", "7.89", "7.89", "7.90", "8.39", "8.39",
              "9.32", "10.48", "11.19", "11.20", "11.20", "11.57", "12.57", "12.74", "12.84", "12.90",
              "12.91", "13.47", "13.89", "13.95", "14.10", "14.26", "14.17", "14.32", "14.47", "14.38",
              "14.47", "14.12", "14.36", "14.42", "13.87", "14.29", "13.49", "14.71", "14.65", "14.71",
              "14.85", "15.44"]
lab_b_t = [6.42, 14.48, 0.68, 1.37, 0.43, 1.06, 1.06, 0.94, 1.37, 1.62,
           0.94, 0.61, 1.30, 1.33, 1.37, 1.55, 1.55, 1.76, 2.13, 3.21,
           3.86, 3.21, 3.84, 2.75, 2.75, 4.03, 4.94, 4.94, 4.94, 4.92,
           5.55, 4.92, 5.46, 5.43, 6.44, 6.42, 7.05, 6.86, 6.93, 7.09,
           7.46, 7.46, 7.46, 7.87, 7.87, 7.87, 7.87, 7.87, 8.40, 8.38,
           9.24, 10.01, 10.81, 10.81, 11.07, 11.58, 11.87, 12.30, 12.45, 12.89,
           12.89, 13.15, 13.18, 13.27, 13.78, 13.87, 13.92, 13.88, 14.65, 14.02,
           14.45, 13.93, 13.99, 13.97, 13.71, 13.88, 13.23, 15.08, 15.04, 15.04,
           15.25, 15.50]
lab_b_v = [101.7, 101.9, 70.6, 68.4, 63.7, 64.0, 58.1, 53.9, 48.5, 41.2,
           42.7, 38.0, 37.7, 33.6, 28.0, 22.0, 16.4, 11.1, 7.9, 20.9,
           20.3, 16.2, 13.9, 12.0, 9.1, 9.5, 83.4, 74.0, 69.1, 55.4,
           54.6, 46.5, 15.2, 11.0, 80.6, 68.4, 68.4, 22.5, 12.8, 9.1,
           27.4, 21.3, 16.9, 59.0, 55.7, 52.9, 47.0, 33.4, 16.7, 12.0,
           16.2, 16.7, 17.4, 13.2, 20.4, 17.4, 22.5, 17.4, 27.9, 39.7,
           32.3, 43.1, 54.1, 58.8, 64.5, 69.3, 74.3, 80.4, 80.2, 90.5,
           87.7, 59.1, 55.6, 50.5, 47.5, 42.4, 29.2, 23.6, 18.6, 15.5,
           11.3, 8.1]

lead_b = [
    (0.70, 67.1, 1.38, 67.2), (0.44, 62.5, 0.68, 62.2), (0.94, 62.7, 1.08, 63.0),
    (0.96, 56.8, 1.08, 57.1), (1.08, 47.1, 1.37, 47.5), (1.08, 39.9, 1.62, 40.2),
    (1.11, 36.5, 1.37, 36.7), (1.13, 32.6, 1.38, 32.8), (1.13, 26.9, 1.37, 27.0),
    (1.21, 20.8, 1.55, 20.9), (1.30, 15.0, 1.55, 15.2), (1.42, 10.0, 1.71, 10.1),
    (1.81, 6.8, 2.10, 6.9), (3.26, 19.1, 4.01, 19.3), (3.26, 12.5, 4.01, 12.8),
    (2.77, 11.0, 3.09, 10.6), (2.78, 8.1, 3.01, 7.9), (5.00, 53.2, 5.57, 53.5),
    (5.29, 14.0, 5.46, 14.2), (6.51, 67.2, 7.05, 67.6), (6.63, 21.3, 7.05, 21.5),
    (6.71, 12.0, 6.97, 11.8), (7.48, 26.4, 7.70, 26.2), (7.48, 20.3, 7.70, 20.1),
    (7.48, 15.9, 7.66, 15.7), (10.04, 15.5, 10.50, 15.2), (10.86, 16.2, 11.15, 15.9),
    (11.92, 21.3, 12.62, 20.9), (12.47, 26.7, 12.94, 26.4), (13.23, 41.9, 13.71, 41.6),
    (13.25, 52.9, 13.88, 52.5), (13.37, 57.6, 13.97, 57.3), (13.80, 63.3, 14.09, 63.2),
    (13.85, 68.1, 14.19, 67.7), (13.92, 73.1, 14.15, 73.0), (13.88, 79.2, 14.31, 79.1),
    (14.45, 79.1, 14.65, 79.2), (14.02, 89.4, 14.36, 89.2), (14.70, 22.5, 15.16, 22.8),
    (14.70, 17.5, 14.99, 17.5), (14.70, 14.3, 14.99, 14.5),
]

# ---------------- styling ----------------
W, H = 1159, 1374
# page layout: the plot div sits inside an 8px body margin and the page
# (W+16 x H+16) is shown at W x H, so positions are laid out in shown pixels
MARGIN = 8
KX = W / (W + 2 * MARGIN)
KY = H / (H + 2 * MARGIN)
FONT = "Arial, Liberation Sans, sans-serif"
line_colors = ["#000000", "#c0161c", "#0a9a0a", "#14148f", "#9e9e16", "#cf2fcf"]
text_colors = ["#1a1a1a", "#d22b2b", "#1f9e1f", "#2b2ba5", "#a0a032", "#c737c7"]
LEADER = "#3cc25e"
AXIS = "#3a3a3a"
FS = 14.2          # main text size


def fx(px):
    """shown x pixel -> paper fraction"""
    return (px / KX - MARGIN) / W


def fy(py):
    """shown y pixel -> paper fraction"""
    return 1 - (py / KY - MARGIN) / H


def check(name, t, series):
    for i, s in enumerate(series):
        if len(s) != len(t):
            raise ValueError(f"{name}: series {i} has {len(s)} points, time has {len(t)}")


series_a = [a_qc_d1, a_qc_d2, a_qc_d3, a_qc_d4, a_qc_d5, a_qc_d6]
series_b = [b_qc_d1, b_qc_d2, b_qc_d3, b_qc_d4, b_qc_d5, b_qc_d6]
check("A", time_a, series_a)
check("B", time_b, series_b)
if len(lab_a_t) != len(lab_a_text) or len(lab_a_v) != len(lab_a_text):
    raise ValueError(f"A labels {len(lab_a_text)} {len(lab_a_t)} {len(lab_a_v)}")
if len(lab_b_t) != len(lab_b_text) or len(lab_b_v) != len(lab_b_text):
    raise ValueError(f"B labels {len(lab_b_text)} {len(lab_b_t)} {len(lab_b_v)}")

fig = go.Figure()

# labels first so the chromatogram traces sit on top of them
for xa, ya, tt, vv, txt in (("x", "y", lab_a_t, lab_a_v, lab_a_text),
                            ("x2", "y2", lab_b_t, lab_b_v, lab_b_text)):
    fig.add_trace(go.Scatter(
        x=tt, y=vv, text=txt, mode="text", xaxis=xa, yaxis=ya,
        textfont=dict(family=FONT, size=FS, color="#1c1c1c"),
        textposition="middle center", cliponaxis=False,
        hoverinfo="skip", showlegend=False,
    ))

for xa, ya, tt, group in (("x", "y", time_a, series_a), ("x2", "y2", time_b, series_b)):
    for col, ys in zip(line_colors, group):
        fig.add_trace(go.Scatter(
            x=tt, y=ys, mode="lines", xaxis=xa, yaxis=ya,
            line=dict(color=col, width=1), hoverinfo="skip", showlegend=False,
        ))

shapes = []
for xr, yr, leads in (("x", "y", lead_a), ("x2", "y2", lead_b)):
    for t0, v0, t1, v1 in leads:
        shapes.append(dict(type="line", xref=xr, yref=yr, x0=t0, y0=v0, x1=t1, y1=v1,
                           line=dict(color=LEADER, width=1.3), layer="below"))

annotations = []


def paper_text(xpx, ypx, text, size, color, xanchor="left"):
    annotations.append(dict(
        xref="paper", yref="paper", x=fx(xpx), y=fy(ypx), text=text,
        showarrow=False, xanchor=xanchor, yanchor="middle",
        font=dict(family=FONT, size=size, color=color),
    ))


# panel letters and RT range headers
paper_text(22, 37, "A", 32.4, "#000000", "center")
paper_text(15, 724, "B", 32.4, "#000000", "center")
paper_text(52, 18, f"RT: <span style='color:#2b2bb8'>{rt_range}</span>", FS, "#2a2a2a")
paper_text(44, 707, f"RT: <span style='color:#2b2bb8'>{rt_range}</span>", FS, "#2a2a2a")

# axis titles
paper_text(570, 666, "Time (min)", FS, "#1c1c1c", "center")
paper_text(567, 1361, "Time (min)", FS, "#1c1c1c", "center")
for xpx, ypx in ((65, 336), (55, 1030)):
    annotations.append(dict(
        xref="paper", yref="paper", x=fx(xpx), y=fy(ypx), text="Relative Abundance",
        showarrow=False, textangle=-90, xanchor="center", yanchor="middle",
        font=dict(family=FONT, size=FS, color="#1c1c1c"),
    ))

# stacked trace descriptions on the right
for top, step, nls, scan, files in ((33, 15.9, nl_a, scan_a, files_a),
                                    (722, 16.12, nl_b, scan_b, files_b)):
    k = 0
    for col, nl, fname in zip(text_colors, nls, files):
        for line in (f"NL: {nl}", scan, "Full ms", "[70.0000-1050.0000]", fname):
            paper_text(1033, top + step * k, line, 12.7, col)
            k += 1

axis_common = dict(
    showline=True, linecolor=AXIS, linewidth=1, mirror=True,
    ticks="outside", tickwidth=1, tickcolor=AXIS,
    showgrid=False, zeroline=False,
    tickfont=dict(family=FONT, size=FS, color="#1c1c1c"),
)

fig.update_layout(
    width=W, height=H,
    margin=dict(l=0, r=0, t=0, b=0),
    paper_bgcolor="white", plot_bgcolor="white",
    showlegend=False,
    shapes=shapes, annotations=annotations,
    xaxis=dict(axis_common, domain=[fx(106), fx(1032)], range=[0, 16], tick0=0, dtick=1,
               ticklen=8, anchor="y",
               minor=dict(ticks="outside", dtick=0.2, ticklen=5, tickcolor=AXIS, showgrid=False)),
    yaxis=dict(axis_common, domain=[fy(628), fy(45)], range=[0, 100], tick0=0, dtick=5,
               ticklen=6, anchor="x",
               minor=dict(ticks="outside", dtick=1, ticklen=3, tickcolor=AXIS, showgrid=False)),
    xaxis2=dict(axis_common, domain=[fx(97), fx(1034)], range=[0, 16], tick0=0, dtick=1,
                ticklen=8, anchor="y2",
                minor=dict(ticks="outside", dtick=0.2, ticklen=5, tickcolor=AXIS, showgrid=False)),
    yaxis2=dict(axis_common, domain=[fy(1326), fy(734)], range=[0, 100], tick0=0, dtick=5,
                ticklen=6, anchor="x2",
                minor=dict(ticks="outside", dtick=1, ticklen=3, tickcolor=AXIS, showgrid=False)),
)

fig.write_html("out.html")
